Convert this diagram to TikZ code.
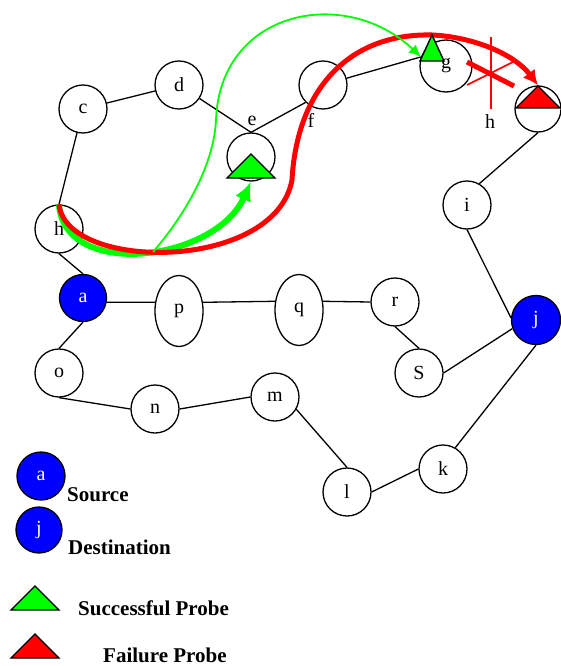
\documentclass[tikz,border=0pt]{standalone}
\usepackage{fontspec}
\setmainfont{Liberation Serif}
\usetikzlibrary{arrows.meta,shapes.geometric,positioning}
\tikzset{
    host/.style={draw, circle, minimum size=48pt, inner sep=0pt, line width=1.3pt, font=\fontsize{20}{24}\selectfont},
    oval/.style={host, ellipse, minimum width=48pt, minimum height=71pt},
    endpoint/.style={host, fill=blue, text=white},
    link/.style={line width=1.3pt},
    okprobe/.style={-{Latex[length=19pt, width=17pt]}, line width=6pt, green},
    okhint/.style={-{Latex[length=12pt, width=11pt]}, line width=1.8pt, green},
    failprobe/.style={-{Latex[length=15pt, width=15pt]}, line width=5pt, red},
    tri/.style={draw=black, line width=1.4pt},
    tag/.style={inner sep=0pt, font=\fontsize{20}{24}\selectfont},
    legend/.style={anchor=west, inner sep=0pt, font=\fontsize{21}{25}\selectfont\bfseries}
}
\begin{document}
\begin{tikzpicture}[x=1pt, y=-1pt]
            \useasboundingbox (0,0) rectangle (560,666);
            \node[host] (c) at (83,109) {c};
            \node[host] (d) at (179,85) {d};
            \node[host] (e) at (251,157) {};
            \node[tag] (elab) at (252,121) {e};
            \node[host] (f) at (323,85) {};
            \node[tag] (flab) at (311,120) {f};
            \node[host, minimum size=52pt] (g) at (446,66) {g};
            \node[host, minimum size=46pt] (u) at (538,109) {};
            \node[tag] (hlab) at (490,122) {h};
            \node[host] (i) at (467,205) {i};
            \node[host] (h) at (59,229) {h};
            \node[endpoint, minimum size=47pt] (a) at (83,298) {a};
            \node[oval] (p) at (179,311) {p};
            \node[oval] (q) at (299,310) {q};
            \node[host] (r) at (395,302) {r};
            \node[host] (s) at (419,373) {S};
            \node[endpoint, minimum size=49pt] (j) at (536,320) {j};
            \node[host] (o) at (59,373) {o};
            \node[host] (n) at (155,409) {n};
            \node[host] (m) at (275,397) {m};
            \node[host] (l) at (347,492) {l};
            \node[host] (k) at (443,469) {k};
            \coordinate (fork) at (153,252);

            \draw[link] (c) -- (d);
            \draw[link] (d) -- (e.north) -- (f.225);
            \draw[link] (f) -- (g.160);
            \draw[link] (c) -- (h.north);
            \draw[link] (h.south) -- (a.north);
            \draw[link] (a.-10) -- (p.160);
            \draw[link] (p.20) -- (q.160);
            \draw[link] (q.20) -- (r.west);
            \draw[link] (r.south) -- (s.north);
            \draw[link] (s.east) -- (j.200);
            \draw[link] (a.south) -- (o.north);
            \draw[link] (o.south) -- (n.west);
            \draw[link] (n.east) -- (m.west);
            \draw[link] (m.-30) -- (l.north);
            \draw[link] (l.east) -- (k.west);
            \draw[link] (k.60) -- (j.south);
            \draw[link] (i.south) -- (j.175);
            \draw[link] (u.south) -- (i.60);

            \draw[red, line width=1.6pt] (491,37) -- (491,109);
            \draw[red, line width=1.6pt] (467,85) -- (515,61);
            \draw[red, line width=5pt] (467,62) -- (514,86);

            \draw[okprobe] (h.north) .. controls (64,280) and (215,262) .. (e.south);
            \draw[failprobe] (h.north) .. controls (66,272) and (275,272) .. (292,180) .. controls (297,88) and (350,33) .. (432,35) .. controls (475,37) and (515,55) .. (u.north);
            \draw[okhint] (fork) .. controls (185,215) and (214,165) .. (216,120) .. controls (220,10) and (345,-15) .. (g.160);

            \filldraw[tri, fill=green] (251,154) -- (275,178) -- (227,178) -- cycle;
            \filldraw[tri, fill=green] (432,35) -- (444,61) -- (420,61) -- cycle;
            \filldraw[tri, fill=red] (538,86) -- (560,108) -- (516,108) -- cycle;

            \node[endpoint] (src) at (41,476) {a};
            \node[endpoint, minimum size=46pt] (dst) at (39,530) {j};
            \node[legend] (srctext) at (67,495) {Source};
            \node[legend] (dsttext) at (68,547) {Destination};
            \filldraw[tri, fill=green] (35,586) -- (59,610) -- (11,610) -- cycle;
            \filldraw[tri, fill=red] (35,634) -- (59,658) -- (11,658) -- cycle;
            \node[legend] (oktext) at (78,608) {Successful Probe};
            \node[legend] (failtext) at (103,655) {Failure Probe};
        \end{tikzpicture}
\end{document}
